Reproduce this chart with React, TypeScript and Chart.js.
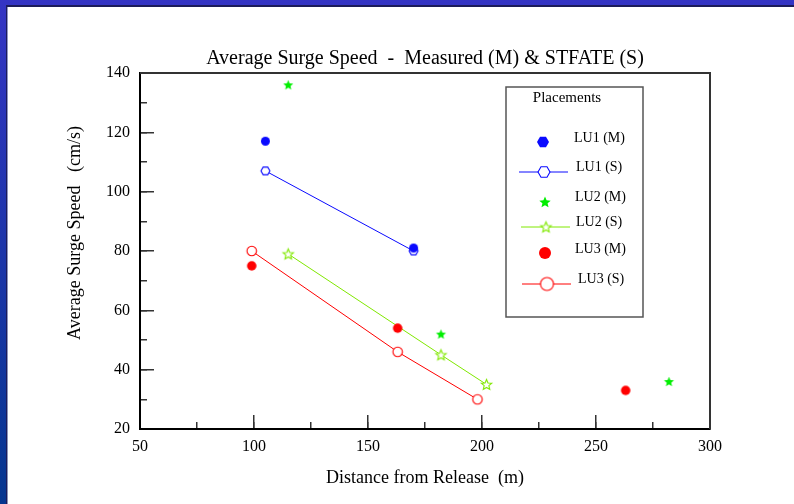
import React, { useEffect, useRef } from 'react';
import { Chart, registerables } from 'chart.js';

Chart.register(...registerables);

const FONT = "'Liberation Serif', 'Times New Roman', serif";

const titleText = 'Average Surge Speed  -  Measured (M) & STFATE (S)';
const xTitle = 'Distance from Release  (m)';
const yTitle = 'Average Surge Speed   (cm/s)';
const legendTitle = 'Placements';
const seriesNames = ['LU1 (M)', 'LU1 (S)', 'LU2 (M)', 'LU2 (S)', 'LU3 (M)', 'LU3 (S)'];

const lu1MDist = [105, 170];
const lu1MSpeed = [117, 81];
const lu1SDist = [105, 170];
const lu1SSpeed = [107, 80];
const lu2MDist = [115, 182, 282];
const lu2MSpeed = [136, 52, 36];
const lu2SDist = [115, 182, 202];
const lu2SSpeed = [79, 45, 35];
const lu3MDist = [99, 163, 263];
const lu3MSpeed = [75, 54, 33];
const lu3SDist = [99, 163, 198];
const lu3SSpeed = [80, 46, 30];

const xMin = 50;
const xMax = 300;
const xMajorStep = 50;
const xMinorStep = 25;
const yMin = 20;
const yMax = 140;
const yMajorStep = 20;
const yMinorStep = 10;

const BLUE = '#0a0aff';
const GREEN = '#00ee00';
const LIME = '#80e800';
const RED = '#ff0000';

type Kind = 'hex' | 'star' | 'circle';

function shape(kind: Kind, d: number, color: string, filled: boolean): HTMLCanvasElement {
  const pad = 2;
  const size = Math.ceil(d + pad * 2);
  const c = document.createElement('canvas');
  c.width = size;
  c.height = size;
  const ctx = c.getContext('2d')!;
  const cx = size / 2;
  const cy = size / 2;
  const R = d / 2;
  ctx.beginPath();
  if (kind === 'circle') {
    ctx.arc(cx, cy, R, 0, Math.PI * 2);
  } else if (kind === 'hex') {
    for (let i = 0; i < 6; i++) {
      const a = (i * Math.PI) / 3;
      ctx.lineTo(cx + R * Math.cos(a), cy + R * Math.sin(a));
    }
  } else {
    for (let i = 0; i < 10; i++) {
      const a = -Math.PI / 2 + (i * Math.PI) / 5;
      const r = i % 2 === 0 ? R : R * 0.45;
      ctx.lineTo(cx + r * Math.cos(a), cy + r * Math.sin(a) + R * 0.08);
    }
  }
  ctx.closePath();
  if (filled) {
    ctx.fillStyle = color;
    ctx.fill();
  } else {
    ctx.fillStyle = '#ffffff';
    ctx.fill();
    ctx.strokeStyle = color;
    ctx.lineWidth = 1.1;
    ctx.stroke();
  }
  return c;
}

function pts(xs: number[], ys: number[]) {
  return xs.map((x, i) => ({ x, y: ys[i] }));
}

export default function App() {
  const ref = useRef<HTMLCanvasElement>(null);

  useEffect(() => {
    const plotMarkers = [
      shape('circle', 9, BLUE, true),
      shape('hex', 9, BLUE, false),
      shape('star', 10.5, GREEN, true),
      shape('star', 11, LIME, false),
      shape('circle', 9.5, RED, true),
      shape('circle', 9.5, RED, false),
    ];
    const legendMarkers = [
      shape('hex', 12, BLUE, true),
      shape('hex', 12, BLUE, false),
      shape('star', 12, GREEN, true),
      shape('star', 11, LIME, false),
      shape('circle', 12, RED, true),
      shape('circle', 13, RED, false),
    ];
    const colors = [BLUE, BLUE, GREEN, LIME, RED, RED];
    const lines = [false, true, false, true, false, true];
    const seriesData = [
      pts(lu1MDist, lu1MSpeed),
      pts(lu1SDist, lu1SSpeed),
      pts(lu2MDist, lu2MSpeed),
      pts(lu2SDist, lu2SSpeed),
      pts(lu3MDist, lu3MSpeed),
      pts(lu3SDist, lu3SSpeed),
    ];

    const background = {
      id: 'slideBackground',
      beforeDraw(chart: any) {
        const { ctx, width, height } = chart;
        ctx.save();
        const g = ctx.createLinearGradient(0, 0, 0, height);
        g.addColorStop(0, '#3434c4');
        g.addColorStop(1, '#05368f');
        ctx.fillStyle = g;
        ctx.fillRect(0, 0, width, height);
        ctx.fillStyle = '#1c1c5a';
        ctx.fillRect(6, 5, width - 6, 2);
        ctx.fillRect(6, 5, 1.5, height - 5);
        ctx.fillStyle = '#ffffff';
        ctx.fillRect(7.5, 7, width - 7.5, height - 7);
        ctx.restore();
      },
    };

    const frame = {
      id: 'plotFrame',
      afterDatasetsDraw(chart: any) {
        const { ctx, chartArea } = chart;
        ctx.save();
        ctx.strokeStyle = '#333333';
        ctx.lineWidth = 2;
        ctx.beginPath();
        ctx.moveTo(chartArea.left, chartArea.top);
        ctx.lineTo(chartArea.right, chartArea.top);
        ctx.lineTo(chartArea.right, chartArea.bottom);
        ctx.stroke();
        ctx.restore();
      },
    };

    const yTitlePlugin = {
      id: 'yTitle',
      afterDraw(chart: any) {
        const { ctx, chartArea } = chart;
        ctx.save();
        ctx.translate(75, (chartArea.top + chartArea.bottom) / 2 - 18);
        ctx.rotate(-Math.PI / 2);
        ctx.font = `18px ${FONT}`;
        ctx.fillStyle = '#000';
        ctx.textAlign = 'center';
        ctx.textBaseline = 'middle';
        ctx.fillText(yTitle, 0, 0);
        ctx.restore();
      },
    };

    const legendPlugin = {
      id: 'placementsLegend',
      afterDraw(chart: any) {
        const { ctx } = chart;
        ctx.save();
        ctx.strokeStyle = '#555555';
        ctx.lineWidth = 1.5;
        ctx.strokeRect(506, 87, 137, 230);
        ctx.fillStyle = '#000';
        ctx.font = `15px ${FONT}`;
        ctx.textAlign = 'center';
        ctx.textBaseline = 'middle';
        ctx.fillText(legendTitle, 567, 98);
        const rowY = [142, 172, 202, 227, 253, 284];
        const textY = [138, 167, 197, 222, 249, 279];
        const markX = [543, 544, 545, 546, 545, 547];
        const textX = [574, 576, 575, 576, 575, 578];
        chart.data.datasets.forEach((ds: any, i: number) => {
          if (ds.showLine) {
            ctx.strokeStyle = ds.borderColor;
            ctx.lineWidth = 1;
            ctx.beginPath();
            ctx.moveTo(markX[i] - 25, rowY[i]);
            ctx.lineTo(markX[i] + 24, rowY[i]);
            ctx.stroke();
          }
          const m = legendMarkers[i];
          ctx.drawImage(m, markX[i] - m.width / 2, rowY[i] - m.height / 2);
          ctx.fillStyle = '#000';
          ctx.font = `14px ${FONT}`;
          ctx.textAlign = 'left';
          ctx.textBaseline = 'middle';
          ctx.fillText(ds.label, textX[i], textY[i]);
        });
        ctx.restore();
      },
    };

    const tickGrid = (len: number) => ({
      drawOnChartArea: false,
      drawTicks: true,
      tickLength: len,
      color: '#333333',
      lineWidth: 1.5,
    });

    const chart = new Chart(ref.current!, {
      type: 'scatter',
      data: {
        datasets: seriesData.map((d, i) => ({
          label: seriesNames[i],
          data: d,
          showLine: lines[i],
          borderColor: colors[i],
          backgroundColor: colors[i],
          borderWidth: 1,
          pointStyle: plotMarkers[i] as any,
          pointRadius: 5,
          pointHoverRadius: 5,
          order: lines[i] ? 1 : 0,
        })),
      },
      options: {
        responsive: false,
        devicePixelRatio: 1,
        animation: false,
        events: [],
        layout: { padding: { left: 0, top: 0, right: 84, bottom: 0 } },
        plugins: {
          legend: { display: false },
          tooltip: { enabled: false },
          title: {
            display: true,
            text: titleText,
            fullSize: false,
            color: '#000',
            font: { family: FONT, size: 20, weight: 'normal' },
            padding: { top: 47, bottom: 2 },
          },
        },
        scales: {
          x: {
            type: 'linear',
            position: 'bottom',
            weight: 1,
            min: xMin,
            max: xMax,
            ticks: {
              stepSize: xMajorStep,
              padding: 22,
              color: '#000',
              font: { family: FONT, size: 16 },
              maxRotation: 0,
              autoSkip: false,
            },
            grid: tickGrid(-14),
            border: { display: true, color: '#000', width: 2 },
            title: {
              display: true,
              text: xTitle,
              color: '#000',
              font: { family: FONT, size: 18 },
              padding: { top: 0, bottom: 15 },
            },
            afterFit: (s: any) => {
              s.height = 75;
            },
          },
          xMinor: {
            type: 'linear',
            position: 'bottom',
            weight: 0,
            min: xMin,
            max: xMax,
            ticks: { display: false, stepSize: xMinorStep },
            grid: tickGrid(-7),
            border: { display: false },
            afterFit: (s: any) => {
              s.height = 0;
            },
          },
          y: {
            type: 'linear',
            position: 'left',
            weight: 1,
            min: yMin,
            max: yMax,
            ticks: {
              stepSize: yMajorStep,
              padding: 24,
              color: '#000',
              font: { family: FONT, size: 16 },
              autoSkip: false,
            },
            grid: tickGrid(-14),
            border: { display: true, color: '#000', width: 2 },
            afterFit: (s: any) => {
              s.width = 140;
            },
          },
          yMinor: {
            type: 'linear',
            position: 'left',
            weight: 0,
            min: yMin,
            max: yMax,
            ticks: { display: false, stepSize: yMinorStep },
            grid: tickGrid(-7),
            border: { display: false },
            afterFit: (s: any) => {
              s.width = 0;
            },
          },
        },
      } as any,
      plugins: [background, frame, yTitlePlugin, legendPlugin],
    });

    return () => chart.destroy();
  }, []);

  return (
    <div style={{ position: 'fixed', left: 0, top: 0, width: 794, height: 504 }}>
      <canvas ref={ref} width={794} height={504} style={{ display: 'block' }} />
    </div>
  );
}
